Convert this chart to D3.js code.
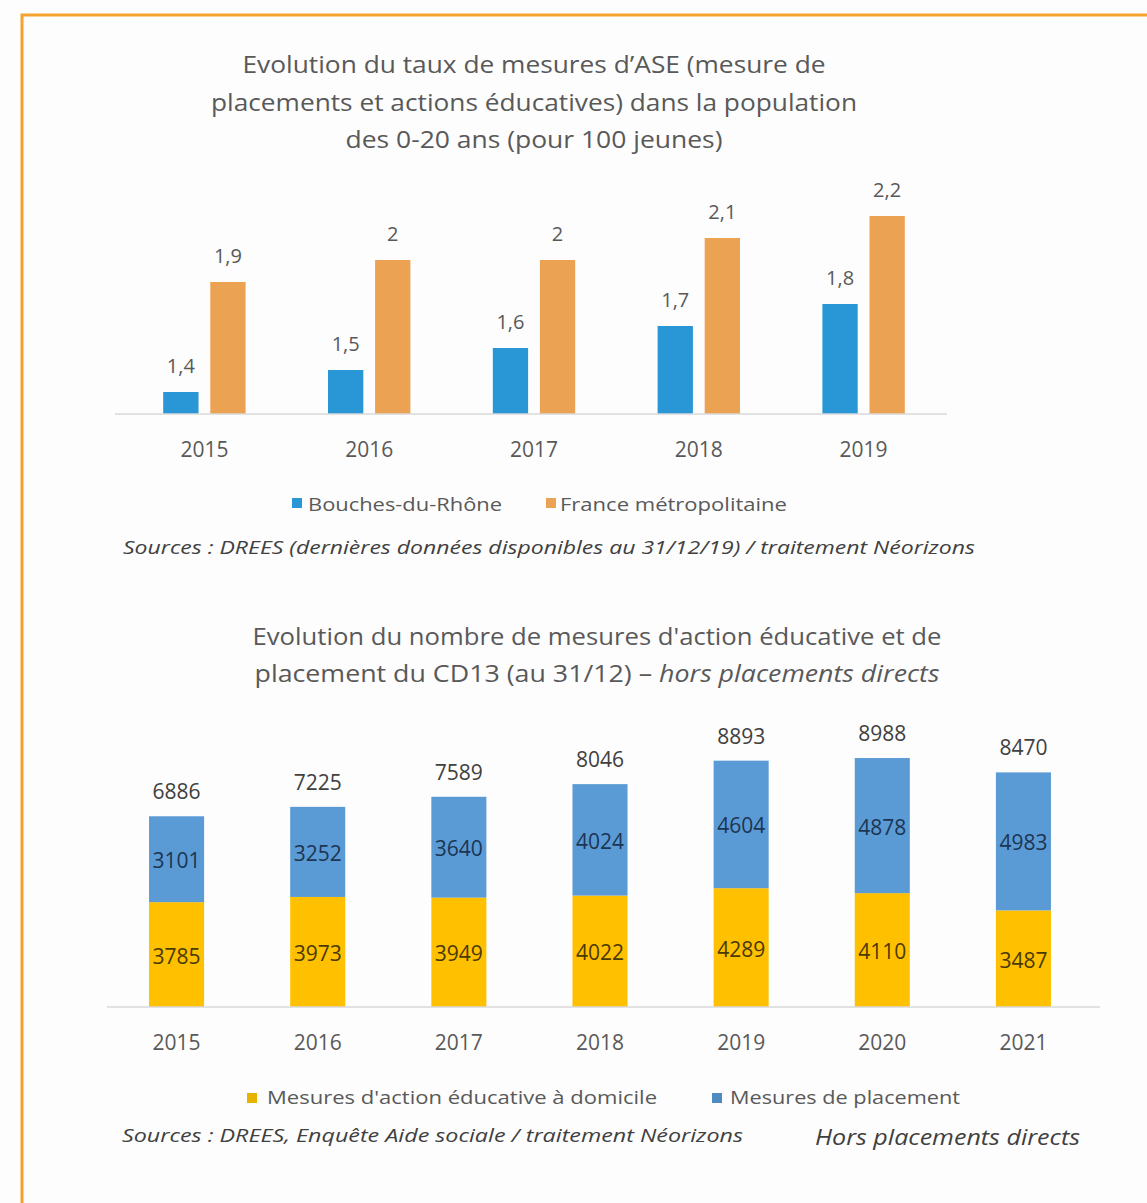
<!DOCTYPE html>
<html>
<head>
<meta charset="utf-8">
<script src="https://cdn.jsdelivr.net/npm/d3@7"></script>
<style>
  html, body { margin: 0; padding: 0; background: #fff; }
  svg { display: block; font-family: "Open Sans", sans-serif; }
</style>
</head>
<body>
<svg id="chart" width="1147" height="1203"></svg>
<script>

// --- chart 1 : taux de mesures d'ASE (pour 100 jeunes)
const years1 = ["2015", "2016", "2017", "2018", "2019"];
const series1 = ["Bouches-du-Rhône", "France métropolitaine"];
const bdr = [1.4, 1.5, 1.6, 1.7, 1.8];
const france = [1.9, 2, 2, 2.1, 2.2];
const title1 = [
  "Evolution du taux de mesures d’ASE (mesure de",
  "placements et actions éducatives) dans la population",
  "des 0-20 ans (pour 100 jeunes)"
];
const source1 = "Sources : DREES (dernières données disponibles au 31/12/19) / traitement Néorizons";

// --- chart 2 : nombre de mesures du CD13
const years2 = ["2015", "2016", "2017", "2018", "2019", "2020", "2021"];
const series2 = ["Mesures d'action éducative à domicile", "Mesures de placement"];
const educative = [3785, 3973, 3949, 4022, 4289, 4110, 3487];
const placement = [3101, 3252, 3640, 4024, 4604, 4878, 4983];
const totals = [6886, 7225, 7589, 8046, 8893, 8988, 8470];
const source2 = "Sources : DREES, Enquête Aide sociale  / traitement Néorizons";
const note2 = "Hors placements directs";

const frNum = (v) => String(v).replace(".", ",");

const svg = d3.select("#chart");

svg.append("rect")
    .attr("width", 1147).attr("height", 1203)
    .attr("fill", "#fdfdfd");

// orange frame (runs off the right and bottom edges)
svg.append("rect")
    .attr("x", 22).attr("y", 15)
    .attr("width", 1200).attr("height", 1300)
    .attr("fill", "none")
    .attr("stroke", "#f4a12e")
    .attr("stroke-width", 3);

// text helper, stretched to the width seen in the picture
const addText = (g, str, x, y, opts) => {
  const t = g.append("text")
      .attr("x", x).attr("y", y)
      .attr("text-anchor", opts.anchor || "start")
      .style("font-size", opts.size + "px")
      .style("font-style", opts.italic ? "italic" : "normal")
      .attr("fill", opts.color || "#595959")
      .text(str);
  if (opts.width) {
    t.attr("textLength", opts.width).attr("lengthAdjust", "spacingAndGlyphs");
  }
  return t;
}

// ================= chart 1 =================
const g1 = svg.append("g");

const title1Widths = [583, 646, 377];
title1.forEach((line, i) => {
  addText(g1, line, 534, 73 + i * 37.5, { size: 23, anchor: "middle", width: title1Widths[i] });
});

const x0 = d3.scaleBand()
    .domain(years1)
    .range([122, 946])
    .paddingInner(0.5)
    .paddingOuter(0.25);

const x1 = d3.scaleBand()
    .domain(series1)
    .range([0, x0.bandwidth()])
    .paddingInner(0.25);

const y1 = d3.scaleLinear()
    .domain([1.3, 2.3])
    .range([414, 194]);

const color1 = d3.scaleOrdinal()
    .domain(series1)
    .range(["#2996d5", "#eba253"]);

const rows1 = years1.map((yr, i) => ({
  year: yr,
  values: [
    { key: series1[0], value: bdr[i] },
    { key: series1[1], value: france[i] }
  ]
}));

const groups1 = g1.selectAll("g.year")
    .data(rows1)
    .enter()
    .append("g")
      .attr("class", "year")
      .attr("transform", (d) => `translate(${x0(d.year)},0)`);

groups1.selectAll("rect")
    .data((d) => d.values)
    .enter()
    .append("rect")
      .attr("x", (d) => x1(d.key))
      .attr("y", (d) => y1(d.value))
      .attr("width", x1.bandwidth())
      .attr("height", (d) => y1(1.3) - y1(d.value))
      .attr("fill", (d) => color1(d.key));

groups1.selectAll("text.val")
    .data((d) => d.values)
    .enter()
    .append("text")
      .attr("class", "val")
      .attr("x", (d) => x1(d.key) + x1.bandwidth() / 2)
      .attr("y", (d) => y1(d.value) - 19)
      .attr("text-anchor", "middle")
      .style("font-size", "20px")
      .attr("fill", "#595959")
      .text((d) => frNum(d.value));

g1.append("line")
    .attr("x1", 115).attr("x2", 947)
    .attr("y1", y1(1.3)).attr("y2", y1(1.3))
    .attr("stroke", "#d9d9d9")
    .attr("stroke-width", 1.5);

const axis1 = g1.append("g")
    .attr("transform", `translate(0,${y1(1.3)})`)
    .call(d3.axisBottom(x0).tickSize(0).tickPadding(0));
axis1.select(".domain").remove();
axis1.selectAll("text")
    .attr("y", 43)
    .attr("dy", null)
    .style("font-size", "21px")
    .style("font-family", "'Open Sans', sans-serif")
    .attr("fill", "#595959");

// legend 1
const legend1 = [
  { key: series1[0], sq: 292, tx: 308, w: 194 },
  { key: series1[1], sq: 546, tx: 560, w: 227 }
];
legend1.forEach((l) => {
  g1.append("rect")
      .attr("x", l.sq).attr("y", 498)
      .attr("width", 10).attr("height", 10)
      .attr("fill", color1(l.key));
  addText(g1, l.key, l.tx, 511, { size: 18, width: l.w });
});

addText(g1, source1, 123, 554, { size: 18, italic: true, color: "#404040", width: 852 });

// ================= chart 2 =================
const g2 = svg.append("g");

const title2 = g2.append("text")
    .attr("x", 597)
    .attr("text-anchor", "middle")
    .style("font-size", "23px")
    .attr("fill", "#595959");
title2.append("tspan")
    .attr("x", 597).attr("y", 645)
    .attr("textLength", 689).attr("lengthAdjust", "spacingAndGlyphs")
    .text("Evolution du nombre de mesures d'action éducative et de");
const t2line2 = g2.append("text")
    .attr("x", 597).attr("y", 682)
    .attr("text-anchor", "middle")
    .style("font-size", "23px")
    .attr("fill", "#595959")
    .attr("textLength", 685).attr("lengthAdjust", "spacingAndGlyphs");
t2line2.append("tspan").text("placement du CD13 (au 31/12) – ");
t2line2.append("tspan").style("font-style", "italic").text("hors placements directs");

const xb = d3.scaleBand()
    .domain(years2)
    .range([106, 1094])
    .paddingInner(0.61)
    .paddingOuter(0.305);

const y2 = d3.scaleLinear()
    .domain([0, 10000])
    .range([1007, 730]);

const color2 = d3.scaleOrdinal()
    .domain(series2)
    .range(["#ffc000", "#5b9bd5"]);
const labelColor2 = d3.scaleOrdinal()
    .domain(series2)
    .range(["#4a3a05", "#1c3553"]);

const rows2 = years2.map((yr, i) => ({
  year: yr,
  [series2[0]]: educative[i],
  [series2[1]]: placement[i],
  total: totals[i]
}));

const stacked = d3.stack().keys(series2)(rows2);

const layers = g2.selectAll("g.layer")
    .data(stacked)
    .enter()
    .append("g")
      .attr("class", "layer")
      .attr("fill", (d) => color2(d.key));

layers.selectAll("rect")
    .data((d) => d)
    .enter()
    .append("rect")
      .attr("x", (d) => xb(d.data.year))
      .attr("y", (d) => y2(d[1]))
      .attr("width", xb.bandwidth())
      .attr("height", (d) => y2(d[0]) - y2(d[1]));

layers.each(function(layer) {
  d3.select(this).selectAll("text")
      .data(layer)
      .enter()
      .append("text")
        .attr("x", (d) => xb(d.data.year) + xb.bandwidth() / 2)
        .attr("y", (d) => (y2(d[0]) + y2(d[1])) / 2 + 9)
        .attr("text-anchor", "middle")
        .style("font-size", "21px")
        .attr("fill", labelColor2(layer.key))
        .text((d) => d.data[layer.key]);
});

g2.selectAll("text.total")
    .data(rows2)
    .enter()
    .append("text")
      .attr("class", "total")
      .attr("x", (d) => xb(d.year) + xb.bandwidth() / 2)
      .attr("y", (d) => y2(d.total) - 17)
      .attr("text-anchor", "middle")
      .style("font-size", "21px")
      .attr("fill", "#404040")
      .text((d) => d.total);

g2.append("line")
    .attr("x1", 107).attr("x2", 1100)
    .attr("y1", y2(0)).attr("y2", y2(0))
    .attr("stroke", "#d9d9d9")
    .attr("stroke-width", 1.5);

const axis2 = g2.append("g")
    .attr("transform", `translate(0,${y2(0)})`)
    .call(d3.axisBottom(xb).tickSize(0).tickPadding(0));
axis2.select(".domain").remove();
axis2.selectAll("text")
    .attr("y", 43)
    .attr("dy", null)
    .style("font-size", "21px")
    .style("font-family", "'Open Sans', sans-serif")
    .attr("fill", "#595959");

// legend 2
const legend2 = [
  { key: series2[0], sq: 247, tx: 267, w: 390 },
  { key: series2[1], sq: 712, tx: 730, w: 230 }
];
legend2.forEach((l) => {
  g2.append("rect")
      .attr("x", l.sq).attr("y", 1093)
      .attr("width", 10).attr("height", 10)
      .attr("fill", l.key === series2[0] ? "#e6b400" : "#4f8bc0");
  addText(g2, l.key, l.tx, 1104, { size: 18, width: l.w });
});

addText(g2, source2, 122, 1142, { size: 18, italic: true, color: "#404040", width: 621 });
addText(g2, note2, 815, 1145, { size: 21, italic: true, color: "#404040", width: 265 });

</script>
</body>
</html>
